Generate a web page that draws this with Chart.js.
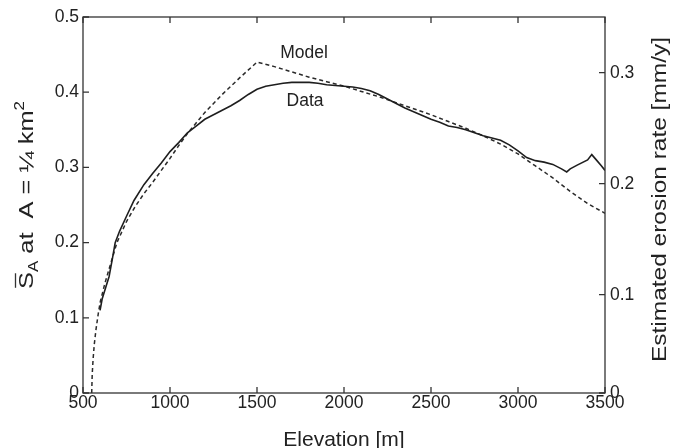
<!DOCTYPE html>
<html>
<head>
<meta charset="utf-8">
<script src="https://cdn.jsdelivr.net/npm/chart.js@4"></script>
<style>
  html, body { margin: 0; padding: 0; background: #fff; }
</style>
</head>
<body>
<canvas id="chart" width="685" height="448"></canvas>
<script>
// slope data (elevation in m, mean slope at A = 1/4 km2)
const dataElev = [598, 610, 630, 650, 670, 685, 710, 750, 793, 850,
  900, 950, 1000, 1050, 1100, 1150, 1200, 1250, 1300, 1350, 1400, 1450, 1500,
  1550, 1600, 1650, 1700, 1750, 1800, 1850, 1900, 1950, 2000, 2050, 2100, 2150, 2200,
  2250, 2300, 2350, 2400, 2450, 2500, 2550, 2600, 2650, 2700, 2750, 2800, 2850, 2900,
  2950, 3000, 3050, 3100, 3150, 3200, 3250,
  3280, 3300, 3340, 3400, 3424, 3450, 3480, 3500];
const dataSlope = [0.110, 0.125, 0.140, 0.155, 0.180, 0.200, 0.215, 0.235, 0.256, 0.277,
  0.292, 0.306, 0.321, 0.333, 0.346, 0.355, 0.364, 0.370, 0.376, 0.382, 0.389, 0.397, 0.404,
  0.408, 0.410, 0.412, 0.413, 0.413, 0.413, 0.412, 0.410, 0.409, 0.408, 0.407, 0.405, 0.402, 0.397,
  0.391, 0.385, 0.379, 0.374, 0.369, 0.364, 0.360, 0.355, 0.353, 0.350, 0.346, 0.342, 0.339, 0.336,
  0.330, 0.322, 0.313, 0.309, 0.307, 0.304, 0.298,
  0.294, 0.298, 0.303, 0.310, 0.317, 0.310, 0.302, 0.296];

const modelElev = [550, 553, 558, 565, 575, 588, 600, 625, 650, 695,
  750, 800, 850, 900, 950, 1000, 1050, 1100,
  1200, 1300, 1400, 1500, 1600, 1700, 1800, 1900, 2000, 2100, 2200, 2300,
  2400, 2500, 2600, 2700, 2800, 2900, 3000, 3100, 3200, 3300, 3400, 3500];
const modelSlope = [0, 0.025, 0.045, 0.065, 0.085, 0.106, 0.122, 0.145, 0.165, 0.200,
  0.228, 0.248, 0.265, 0.280, 0.296, 0.312, 0.329, 0.345,
  0.373, 0.397, 0.419, 0.440, 0.434, 0.427, 0.420, 0.414, 0.408, 0.401, 0.394, 0.386,
  0.378, 0.370, 0.361, 0.352, 0.342, 0.331, 0.318, 0.302, 0.286, 0.268, 0.252, 0.239];

const xTicks = [500, 1000, 1500, 2000, 2500, 3000, 3500];
const leftTicks = [0, 0.1, 0.2, 0.3, 0.4, 0.5];
// right axis (erosion rate) is not linear in slope: tick positions on the slope scale
const rightTickPos = [0, 0.1307, 0.2783, 0.4259];
const rightTickLabels = ['0', '0.1', '0.2', '0.3'];

const curveLabels = [
  { text: 'Model', x: 1770, y: 0.4515 },
  { text: 'Data', x: 1776, y: 0.3876 }
];

const FONT = '"Liberation Sans", Arial, Helvetica, sans-serif';
const INK = '#222';

function toPoints(xs, ys) {
  return xs.map((x, i) => ({ x: x, y: ys[i] }));
}

// text run along a rotated baseline, stretched to a given length
function drawRun(ctx, parts, x, y, length) {
  ctx.save();
  ctx.translate(x, y);
  ctx.rotate(-Math.PI / 2);
  let total = 0;
  parts.forEach(p => {
    ctx.font = p.size + 'px ' + FONT;
    p.w = ctx.measureText(p.text).width;
    total += p.w;
  });
  ctx.scale(length / total, 1);
  let cx = -total / 2;
  ctx.textBaseline = 'alphabetic';
  ctx.textAlign = 'left';
  parts.forEach(p => {
    ctx.font = p.size + 'px ' + FONT;
    ctx.fillText(p.text, cx, p.dy || 0);
    if (p.bar) {
      ctx.beginPath();
      ctx.lineWidth = 1.3;
      ctx.moveTo(cx + 1, -17.5);
      ctx.lineTo(cx + p.w - 1, -17.5);
      ctx.stroke();
    }
    cx += p.w;
  });
  ctx.restore();
}

const frame = {
  id: 'frame',
  afterDraw(chart) {
    const { ctx, chartArea: a, scales } = chart;
    ctx.save();
    ctx.strokeStyle = '#333';
    ctx.fillStyle = INK;
    ctx.lineWidth = 1.3;
    ctx.strokeRect(a.left, a.top, a.right - a.left, a.bottom - a.top);

    // inward tick marks
    const t = 6;
    ctx.beginPath();
    scales.x.ticks.forEach(tk => {
      const px = scales.x.getPixelForValue(tk.value);
      ctx.moveTo(px, a.bottom); ctx.lineTo(px, a.bottom - t);
      ctx.moveTo(px, a.top); ctx.lineTo(px, a.top + t);
    });
    scales.y.ticks.forEach(tk => {
      const py = scales.y.getPixelForValue(tk.value);
      ctx.moveTo(a.left, py); ctx.lineTo(a.left + t, py);
    });
    scales.y2.ticks.forEach(tk => {
      const py = scales.y2.getPixelForValue(tk.value);
      ctx.moveTo(a.right, py); ctx.lineTo(a.right - t, py);
    });
    ctx.stroke();

    // axis titles
    ctx.font = '21px ' + FONT;
    ctx.textAlign = 'center';
    ctx.textBaseline = 'alphabetic';
    ctx.fillText('Elevation [m]', (a.left + a.right) / 2, 446);

    drawRun(ctx, [
      { text: 'S', size: 21, bar: true },
      { text: 'A', size: 14, dy: 5 },
      { text: ' at  A = \u00BC km', size: 21 },
      { text: '2', size: 14, dy: -9 }
    ], 33, 195, 188);

    drawRun(ctx, [
      { text: 'Estimated erosion rate [mm/y]', size: 21 }
    ], 666, 199.5, 325);

    // curve labels
    ctx.font = '17.5px ' + FONT;
    ctx.textAlign = 'center';
    ctx.textBaseline = 'middle';
    curveLabels.forEach(l => {
      ctx.fillText(l.text, scales.x.getPixelForValue(l.x), scales.y.getPixelForValue(l.y));
    });
    ctx.restore();
  }
};

const tickFont = { family: FONT, size: 17.5 };

new Chart(document.getElementById('chart'), {
  type: 'line',
  data: {
    datasets: [{
      label: 'Data',
      data: toPoints(dataElev, dataSlope),
      borderColor: '#1e1e1e',
      borderWidth: 1.6,
      pointRadius: 0,
      tension: 0,
      yAxisID: 'y'
    }, {
      label: 'Model',
      data: toPoints(modelElev, modelSlope),
      borderColor: '#2a2a2a',
      borderWidth: 1.5,
      borderDash: [4, 3],
      pointRadius: 0,
      tension: 0,
      yAxisID: 'y'
    }]
  },
  options: {
    responsive: false,
    animation: false,
    devicePixelRatio: 1,
    layout: { padding: { top: 17, left: 0, right: 0, bottom: 0 } },
    plugins: {
      legend: { display: false },
      tooltip: { enabled: false }
    },
    scales: {
      x: {
        type: 'linear',
        min: 500,
        max: 3500,
        afterBuildTicks: axis => { axis.ticks = xTicks.map(v => ({ value: v })); },
        afterFit: axis => { axis.height = 55; },
        ticks: { font: tickFont, color: INK, padding: 0, maxRotation: 0, callback: v => String(v) },
        grid: { display: false, drawTicks: false },
        border: { display: false }
      },
      y: {
        position: 'left',
        min: 0,
        max: 0.5,
        afterBuildTicks: axis => { axis.ticks = leftTicks.map(v => ({ value: v })); },
        afterFit: axis => { axis.width = 83; },
        ticks: { font: tickFont, color: INK, padding: 4, callback: v => v === 0 ? '0' : v.toFixed(1) },
        grid: { display: false, drawTicks: false },
        border: { display: false }
      },
      y2: {
        position: 'right',
        min: 0,
        max: 0.5,
        afterBuildTicks: axis => { axis.ticks = rightTickPos.map(v => ({ value: v })); },
        afterFit: axis => { axis.width = 80; },
        ticks: { font: tickFont, color: INK, padding: 5, callback: (v, i) => rightTickLabels[i] },
        grid: { display: false, drawTicks: false },
        border: { display: false }
      }
    }
  },
  plugins: [frame]
});
</script>
</body>
</html>
